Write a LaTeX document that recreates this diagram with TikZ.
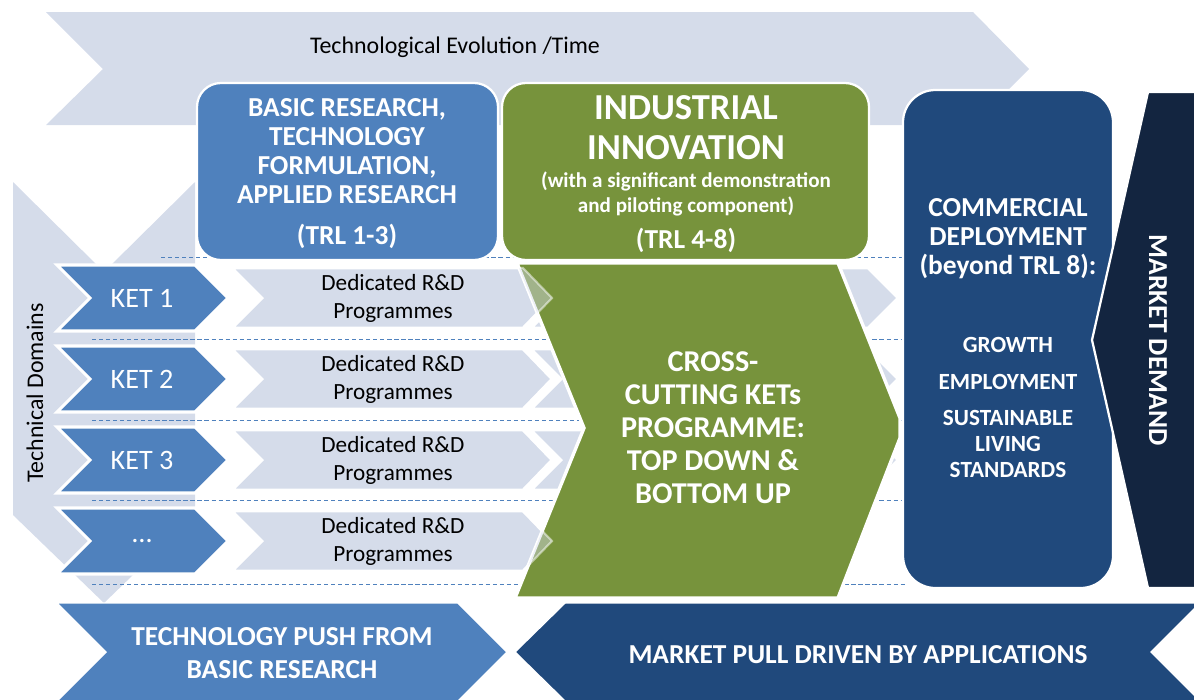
\documentclass[tikz,border=0pt]{standalone}
\usepackage{fontspec}
\setmainfont{Carlito}
\definecolor{lightbg}{RGB}{213,220,234}
\definecolor{ketblue}{RGB}{79,129,189}
\definecolor{kgreen}{RGB}{119,147,60}
\definecolor{dblue}{RGB}{32,73,124}
\definecolor{ddark}{RGB}{19,37,64}
\definecolor{dashc}{RGB}{79,129,189}
\newcommand{\ketdots}{\char"2026}
\tikzset{
  lightshape/.style={fill=lightbg, draw=none},
  ketchev/.style={fill=ketblue, draw=white, line width=2.2pt, line join=miter},
  rdchev/.style={fill=lightbg, draw=white, line width=2pt, line join=miter},
  sepline/.style={draw=dashc, line width=0.6pt, dash pattern=on 3pt off 2pt},
  bigbox/.style={draw=white, line width=1.6pt},
  wbold/.style={text=white, font=\bfseries\fontsize{19.5}{20.6}\selectfont, align=center, inner sep=0pt},
  wsmall/.style={text=white, font=\bfseries\fontsize{16.5}{18.5}\selectfont, align=center, inner sep=0pt},
  ketlabel/.style={text=white, font=\fontsize{20}{22}\selectfont, inner sep=0pt},
  rdlabel/.style={text=black, font=\fontsize{16.5}{20}\selectfont, align=center, inner sep=0pt},
  plainlabel/.style={text=black, font=\fontsize{17}{20}\selectfont, inner sep=0pt}
}
\begin{document}
\begin{tikzpicture}[x=0.025cm,y=-0.025cm]
\useasboundingbox (0,0) rectangle (1194,699);
\clip (0,0) rectangle (1194,699);

% top evolution arrow
\path[lightshape] (46,12) -- (973,12) -- (1029,69) -- (973,125) -- (46,125) -- (103,69) -- cycle;
% vertical technical domains arrow
\path[lightshape] (13,182) -- (104,272) -- (195,182) -- (195,515) -- (104,603) -- (13,515) -- cycle;

% dashed separators
\draw[sepline] (161,257) -- (905,257);
\foreach \yy in {339,420,500,584} {
  \draw[sepline] (92,\yy) -- (905,\yy);
}

% row chevrons (right continuation, rows 1-3)
\foreach \c in {298,379,460} {
  \draw[rdchev] (531,{\c-30}) -- (868,{\c-30}) -- (898,\c) -- (868,{\c+30}) -- (531,{\c+30}) -- (561,\c) -- cycle;
}
\foreach \c in {298,379,460,541} {
  \draw[rdchev] (232,{\c-30}) -- (523,{\c-30}) -- (552,\c) -- (523,{\c+30}) -- (232,{\c+30}) -- (262,\c) -- cycle;
  \draw[ketchev] (57,{\c-33}) -- (195,{\c-33}) -- (228,\c) -- (195,{\c+33}) -- (57,{\c+33}) -- (90,\c) -- cycle;
}

% green cross-cutting arrow
\draw[fill=kgreen, draw=white, line width=2.4pt, line join=miter] (517,263) -- (838,263) -- (900,418) -- (900,438) -- (838,598) -- (515,598) -- (584,428) -- cycle;
\begin{scope}
  \clip (517,263) -- (838,263) -- (900,418) -- (900,438) -- (838,598) -- (515,598) -- (584,428) -- cycle;
  \foreach \c in {298,379,460,541} {
    \draw[fill=lightbg, fill opacity=0.45, draw=white, draw opacity=0.5, line width=1.5pt] (232,{\c-30}) -- (523,{\c-30}) -- (552,\c) -- (523,{\c+30}) -- (232,{\c+30}) -- (262,\c) -- cycle;
  }
\end{scope}

% top boxes
\draw[bigbox, fill=ketblue, rounded corners=17pt] (197,83) rectangle (498,260);
\draw[bigbox, fill=kgreen, rounded corners=17pt] (502,83) rectangle (869,260);

% commercial deployment box
\draw[bigbox, fill=dblue, rounded corners=23pt] (903,90) rectangle (1113,588);
% market demand
\draw[fill=ddark, draw=white, line width=1.6pt] (1148,92) -- (1200,92) -- (1200,588) -- (1148,588) -- (1092,340) -- cycle;

% bottom arrows
\draw[fill=ketblue, draw=white, line width=1pt] (57,603) -- (458,603) -- (507,652) -- (458,701) -- (57,701) -- (106,652) -- cycle;
\draw[fill=dblue, draw=white, line width=1pt] (515,652) -- (565,603) -- (1200,603) -- (1151,652) -- (1200,701) -- (565,701) -- cycle;

% texts
\node[plainlabel] (evo) at (455,47) {Technological Evolution /Time};
\node[plainlabel, rotate=90] (dom) at (35,393) {Technical Domains};

\node[wbold] (basic) at (347,151) {BASIC RESEARCH,\\TECHNOLOGY\\FORMULATION,\\APPLIED RESEARCH};
\node[wbold] (trl13) at (347,236) {(TRL 1-3)};

\node[text=white, font=\bfseries\fontsize{26}{28.5}\selectfont, align=center, inner sep=0pt] (indus) at (686,128) {INDUSTRIAL\\INNOVATION};
\node[text=white, font=\bfseries\fontsize{15}{17.8}\selectfont, align=center, inner sep=0pt] (withsig) at (686,194) {(with a significant demonstration\\and piloting component)};
\node[wbold] (trl48) at (686,240) {(TRL 4-8)};

\node[text=white, font=\bfseries\fontsize{21.5}{23.5}\selectfont, align=center, inner sep=0pt] (cross) at (713,428) {CROSS-\\CUTTING KETs\\PROGRAMME:\\TOP DOWN \&\\BOTTOM UP};

\node[wbold] (comm) at (1008,239) {COMMERCIAL\\DEPLOYMENT\\(beyond TRL 8):};
\node[wsmall] (growth) at (1008,345) {GROWTH};
\node[wsmall] (employ) at (1008,382) {EMPLOYMENT};
\node[wsmall] (sustain) at (1008,444) {SUSTAINABLE\\LIVING\\STANDARDS};

\node[wbold, rotate=-90] (demand) at (1158,340) {MARKET DEMAND};

\foreach \i/\c/\t in {1/298/{KET 1}, 2/379/{KET 2}, 3/460/{KET 3}, 4/541/{\ketdots}} {
  \node[ketlabel] (ket\i) at (142,\c) {\t};
  \node[rdlabel] (rd\i) at (393,\c) {Dedicated R\&D\\Programmes};
}

\node[text=white, font=\bfseries\fontsize{19.5}{23.5}\selectfont, align=center, inner sep=0pt] (push) at (282,653) {TECHNOLOGY PUSH FROM\\BASIC RESEARCH};
\node[wbold] (pull) at (858,655) {MARKET PULL DRIVEN BY APPLICATIONS};
\end{tikzpicture}
\end{document}
